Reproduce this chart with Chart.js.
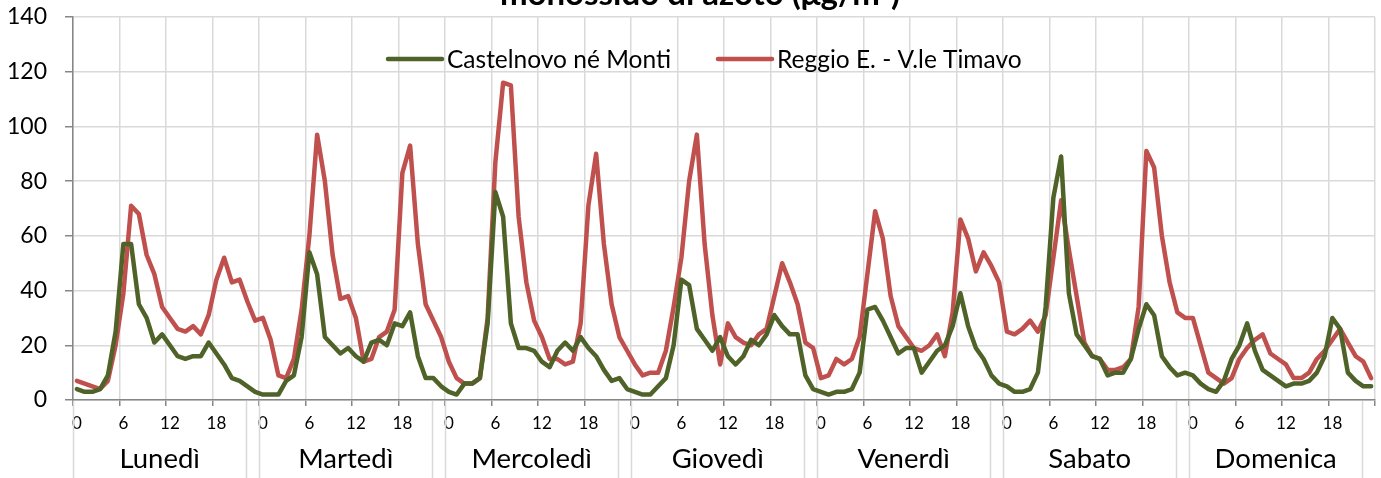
<!DOCTYPE html>
<html><head><meta charset="utf-8">
<script src="https://cdn.jsdelivr.net/npm/chart.js@4/dist/chart.umd.min.js"></script>
<style>html,body{margin:0;padding:0;background:#fff;}#wrap{width:1381px;height:478px;position:relative;overflow:hidden}</style>
</head><body><div id="wrap"><canvas id="c" width="1381" height="478"></canvas></div>
<script>
const chartTitle = 'monossido di azoto (μg/m³)';
const days = ['Lunedì', 'Martedì', 'Mercoledì', 'Giovedì', 'Venerdì', 'Sabato', 'Domenica'];
const hourLabels = ['0','1','2','3','4','5','6','7','8','9','10','11','12','13','14','15','16','17','18','19','20','21','22','23'];
const yTickValues = [0, 20, 40, 60, 80, 100, 120, 140];
const seriesNames = ['Castelnovo né Monti', 'Reggio E. - V.le Timavo'];

// Castelnovo né Monti, hourly, Monday..Sunday
const castelnovo = [
  4, 3, 3, 4, 9, 25, 57, 57, 35, 30, 21, 24, 20, 16, 15, 16, 16, 21, 17, 13, 8, 7, 5, 3,
  2, 2, 2, 7, 9, 23, 54, 46, 23, 20, 17, 19, 16, 14, 21, 22, 20, 28, 27, 32, 16, 8, 8, 5,
  3, 2, 6, 6, 8, 28, 76, 67, 28, 19, 19, 18, 14, 12, 18, 21, 18, 23, 19, 16, 11, 7, 8, 4,
  3, 2, 2, 5, 8, 20, 44, 42, 26, 22, 18, 23, 16, 13, 16, 22, 20, 24, 31, 27, 24, 24, 9, 4,
  3, 2, 3, 3, 4, 10, 33, 34, 29, 23, 17, 19, 19, 10, 14, 18, 20, 27, 39, 27, 19, 15, 9, 6,
  5, 3, 3, 4, 10, 34, 74, 89, 39, 24, 20, 16, 15, 9, 10, 10, 15, 26, 35, 31, 16, 12, 9, 10,
  9, 6, 4, 3, 7, 15, 20, 28, 18, 11, 9, 7, 5, 6, 6, 7, 10, 16, 30, 26, 10, 7, 5, 5
];
// Reggio E. - V.le Timavo, hourly, Monday..Sunday
const reggio = [
  7, 6, 5, 4, 7, 20, 39, 71, 68, 53, 46, 34, 30, 26, 25, 27, 24, 31, 44, 52, 43, 44, 36, 29,
  30, 22, 9, 8, 15, 33, 60, 97, 80, 53, 37, 38, 30, 14, 15, 23, 25, 33, 83, 93, 57, 35, 29, 23,
  14, 8, 6, 6, 8, 30, 87, 116, 115, 67, 43, 29, 23, 15, 15, 13, 14, 28, 71, 90, 57, 35, 23, 18,
  13, 9, 10, 10, 18, 34, 52, 80, 97, 57, 31, 13, 28, 23, 21, 20, 24, 26, 38, 50, 43, 35, 21, 19,
  8, 9, 15, 13, 15, 23, 46, 69, 59, 38, 27, 23, 19, 18, 20, 24, 16, 32, 66, 59, 47, 54, 49, 43,
  25, 24, 26, 29, 25, 31, 52, 73, 55, 38, 21, 16, 15, 11, 11, 12, 15, 34, 91, 85, 60, 43, 32, 30,
  30, 20, 10, 8, 6, 8, 15, 19, 22, 24, 17, 15, 13, 8, 8, 10, 15, 18, 22, 26, 21, 16, 14, 8
];

const categories = days.flatMap(() => hourLabels);
const GREEN = '#4F6228', RED = '#C0504D';
const GRID = '#d9d9d9', AXIS = '#868686';
const FONT = 'Lato, "Open Sans", sans-serif';

const overlayPlugin = {
  id: 'overlay',
  afterDraw(chart) {
    const ctx = chart.ctx;
    const xs = chart.scales.x;
    const area = chart.chartArea;
    ctx.save();
    // title (partially cut at top)
    ctx.fillStyle = '#000';
    ctx.font = 'bold 33px ' + FONT;
    ctx.textAlign = 'center';
    ctx.textBaseline = 'alphabetic';
    ctx.fillText(chartTitle, 700, 5);

    // legend
    const legendItems = [
      {name: seriesNames[0], color: GREEN, x: 388},
      {name: seriesNames[1], color: RED, x: 718}
    ];
    ctx.font = '24.5px ' + FONT;
    ctx.textAlign = 'left';
    ctx.textBaseline = 'middle';
    legendItems.forEach(it => {
      ctx.strokeStyle = it.color;
      ctx.lineWidth = 4.5;
      ctx.lineCap = 'round';
      ctx.beginPath();
      ctx.moveTo(it.x, 59);
      ctx.lineTo(it.x + 54, 59);
      ctx.stroke();
      ctx.fillStyle = '#000';
      ctx.fillText(it.name, it.x + 59, 60);
    });

    // day labels and separators
    const half = (xs.getPixelForValue(1) - xs.getPixelForValue(0)) / 2;
    ctx.font = '27.5px ' + FONT;
    ctx.textAlign = 'center';
    ctx.textBaseline = 'middle';
    ctx.strokeStyle = GRID;
    ctx.lineWidth = 1.5;
    ctx.lineCap = 'butt';
    days.forEach((d, i) => {
      const x0 = xs.getPixelForValue(i * 24) - half;
      const x1 = xs.getPixelForValue(i * 24 + 22) - 1;
      ctx.beginPath();
      ctx.moveTo(Math.round(x0) + 0.5, area.bottom + 1);
      ctx.lineTo(Math.round(x0) + 0.5, 478);
      ctx.moveTo(Math.round(x1) + 0.5, area.bottom + 1);
      ctx.lineTo(Math.round(x1) + 0.5, 478);
      ctx.stroke();
      const cx = (x0 + x1) / 2;
      ctx.fillStyle = '#000';
      ctx.fillText(d, cx, 459);
    });
    ctx.restore();
  }
};

new Chart(document.getElementById('c'), {
  type: 'line',
  data: {
    labels: categories,
    datasets: [
      {label: seriesNames[0], data: castelnovo, borderColor: GREEN, backgroundColor: GREEN,
       borderWidth: 4.5, pointRadius: 0, tension: 0, borderJoinStyle: 'round', borderCapStyle: 'round'},
      {label: seriesNames[1], data: reggio, borderColor: RED, backgroundColor: RED,
       borderWidth: 4.5, pointRadius: 0, tension: 0, borderJoinStyle: 'round', borderCapStyle: 'round'}
    ]
  },
  options: {
    responsive: false,
    animation: false,
    devicePixelRatio: 1,
    layout: {padding: {top: 17, right: 6, left: 0, bottom: 0}},
    plugins: {legend: {display: false}, title: {display: false}, tooltip: {enabled: false}},
    scales: {
      x: {
        type: 'category',
        offset: true,
        grid: {
          offset: true,
          lineWidth: 1.5,
          color: c => (c.index === undefined || c.index % 6 === 0) ? GRID : 'rgba(0,0,0,0)',
          tickColor: c => (c.index === undefined || c.index % 6 === 0) ? AXIS : 'rgba(0,0,0,0)',
          tickLength: 6
        },
        border: {color: AXIS, width: 1.5},
        ticks: {
          autoSkip: false, maxRotation: 0, minRotation: 0,
          color: '#000', font: {family: FONT, size: 17}, padding: 7,
          callback: (v, i) => (i % 6 === 0 ? categories[i] : '')
        },
        afterFit: s => { s.height = 78; s.paddingLeft = 0; s.paddingRight = 0; }
      },
      y: {
        min: 0, max: 140,
        afterBuildTicks: s => { s.ticks = yTickValues.map(v => ({value: v})); },
        grid: {color: GRID, lineWidth: 1.5, tickColor: AXIS, tickLength: 8},
        border: {color: AXIS, width: 1.5},
        ticks: {color: '#000', font: {family: FONT, size: 23}, padding: 18},
        afterFit: s => { s.width = 73; s.paddingTop = 0; s.paddingBottom = 0; }
      }
    }
  },
  plugins: [overlayPlugin]
});
</script></body></html>
